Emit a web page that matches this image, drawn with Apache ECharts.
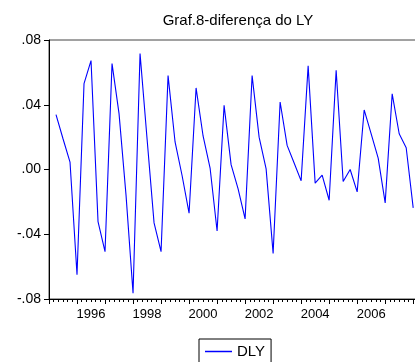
<!DOCTYPE html>
<html>
<head>
<meta charset="utf-8">
<script src="https://cdn.jsdelivr.net/npm/echarts@6/dist/echarts.min.js"></script>
<style>
  html, body { margin: 0; padding: 0; background: #fff; }
  #chart { width: 415px; height: 362px; }
</style>
</head>
<body>
<div id="chart"></div>
<script>
const periods = [
  '1995Q2', '1995Q3', '1995Q4',
  '1996Q1', '1996Q2', '1996Q3', '1996Q4',
  '1997Q1', '1997Q2', '1997Q3', '1997Q4',
  '1998Q1', '1998Q2', '1998Q3', '1998Q4',
  '1999Q1', '1999Q2', '1999Q3', '1999Q4',
  '2000Q1', '2000Q2', '2000Q3', '2000Q4',
  '2001Q1', '2001Q2', '2001Q3', '2001Q4',
  '2002Q1', '2002Q2', '2002Q3', '2002Q4',
  '2003Q1', '2003Q2', '2003Q3', '2003Q4',
  '2004Q1', '2004Q2', '2004Q3', '2004Q4',
  '2005Q1', '2005Q2', '2005Q3', '2005Q4',
  '2006Q1', '2006Q2', '2006Q3', '2006Q4',
  '2007Q1', '2007Q2', '2007Q3', '2007Q4',
  '2008Q1'
]
const dly = [
  0.0339, 0.0190, 0.0046,
  -0.0650, 0.0530, 0.0673, -0.0322,
  -0.0508, 0.0654, 0.0345, -0.0160,
  -0.0765, 0.0716, 0.0190, -0.0330,
  -0.0508, 0.0580, 0.0170, -0.0037,
  -0.0270, 0.0504, 0.0207, 0.0009,
  -0.0380, 0.0396, 0.0030, -0.0120,
  -0.0305, 0.0580, 0.0200, 0.0004,
  -0.0518, 0.0417, 0.0149, 0.0040,
  -0.0070, 0.0640, -0.0084, -0.0035,
  -0.0190, 0.0613, -0.0074, 0.0000,
  -0.0138, 0.0368, 0.0220, 0.0070,
  -0.0206, 0.0467, 0.0221, 0.0134,
  -0.0237
]
const yearLabels = ['1996', '1998', '2000', '2002', '2004', '2006']
const yTickLabels = ['-.08', '-.04', '.00', '.04', '.08']

const xMin = 1995
const xMax = 2008.3
const yMin = -0.08
const yMax = 0.08
const yStep = 0.04

// 季度 -> 年份小数
function periodToYear(p) {
  const year = parseInt(p.slice(0, 4), 10)
  const q = parseInt(p.slice(5), 10)
  return year + (q - 1) / 4
}

const seriesData = periods.map((p, i) => [periodToYear(p), dly[i]])

const tickFont = { fontFamily: 'Liberation Sans', fontSize: 13, color: '#000' }

const chart = echarts.init(document.getElementById('chart'), null, { renderer: 'canvas' })

chart.setOption({
  animation: false,
  title: {
    text: 'Graf.8-diferença do LY',
    left: 233,
    textAlign: 'center',
    top: 8,
    textStyle: { fontFamily: 'Liberation Sans', fontSize: 15, fontWeight: 'normal', color: '#000' },
  },
  grid: {
    left: 49,
    top: 40,
    width: 372.6,
    height: 259,
    show: true,
    borderColor: '#444',
    borderWidth: 1,
    backgroundColor: 'transparent',
    containLabel: false,
    outerBoundsMode: 'none',
  },
  legend: {
    left: 199,
    top: 339,
    data: ['DLY'],
    icon: 'rect',
    itemWidth: 27,
    itemHeight: 1.5,
    padding: [5, 6, 10, 6],
    borderColor: '#000',
    borderWidth: 1,
    borderRadius: 0,
    textStyle: { fontFamily: 'Liberation Sans', fontSize: 15, color: '#000' },
  },
  xAxis: [
    {
      type: 'value',
      position: 'bottom',
      min: xMin,
      max: xMax,
      interval: 1,
      axisLine: { show: true, onZero: false, lineStyle: { color: '#000', width: 1 } },
      axisTick: { show: true, inside: false, length: 5, lineStyle: { color: '#000' } },
      minorTick: { show: true, splitNumber: 6, length: 3, lineStyle: { color: '#000' } },
      axisLabel: { show: false },
      splitLine: { show: false },
    },
    {
      // 只用来放年份标签（年中位置）
      type: 'value',
      position: 'bottom',
      min: xMin,
      max: xMax,
      interval: 0.5,
      axisLine: { show: false, onZero: false },
      axisTick: { show: false },
      splitLine: { show: false },
      axisLabel: {
        ...tickFont,
        margin: 9,
        showMinLabel: false,
        showMaxLabel: false,
        formatter: (v) => {
          const label = String(Math.floor(v))
          return (v - Math.floor(v) === 0.5 && yearLabels.includes(label)) ? label : ''
        },
      },
    },
  ],
  yAxis: {
    type: 'value',
    min: yMin,
    max: yMax,
    interval: yStep,
    axisLine: { show: true, onZero: false, lineStyle: { color: '#000', width: 1 } },
    axisTick: { show: true, inside: false, length: 5, lineStyle: { color: '#000' } },
    splitLine: { show: false },
    axisLabel: {
      fontFamily: 'Liberation Sans',
      fontSize: 14,
      color: '#000',
      margin: 8,
      formatter: (v) => yTickLabels[Math.round((v - yMin) / yStep)],
    },
  },
  series: [
    {
      name: 'DLY',
      type: 'line',
      xAxisIndex: 0,
      data: seriesData,
      symbol: 'none',
      lineStyle: { color: '#0000ff', width: 1.1 },
      itemStyle: { color: '#0000ff' },
    },
  ],
})
</script>
</body>
</html>
